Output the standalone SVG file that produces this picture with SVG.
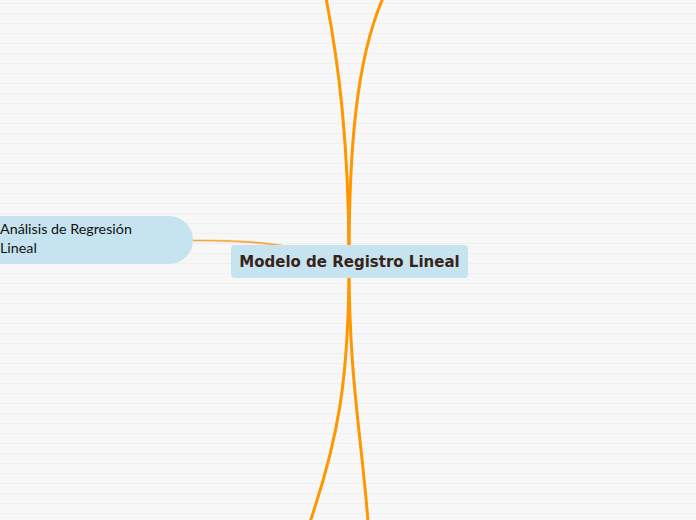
<svg xmlns="http://www.w3.org/2000/svg" width="696" height="520" viewBox="0 0 696 520">
<defs>
<pattern id="stripes" x="0" y="0" width="696" height="10" patternUnits="userSpaceOnUse">
<rect x="0" y="0" width="696" height="10" fill="#f7f7f7"/>
<rect x="0" y="3" width="696" height="1" fill="#efefef"/>
</pattern>
</defs>
<style>
.branch{fill:none;stroke:#ff9800;stroke-width:3;stroke-linecap:round}
.main{fill:#c5e4f0}
.mainText{font-family:"DejaVu Sans",sans-serif;font-weight:bold;font-size:15px;fill:#3a2218}
.subText{font-family:Lato,"Noto Sans",sans-serif;font-size:14.3px;fill:#111111}
</style>
<rect width="696" height="520" fill="url(#stripes)"/>
<g id="connectors">
<path d="M193,240 C250,240 290,242 349,262 C290,244 250,241 193,241 Z" fill="#f9a53a" stroke="#f9a53a" stroke-width="0.6"/>
<path class="branch" d="M349,262 C349,140 338,60 326,-2"/>
<path class="branch" d="M349,262 C349,150 356,60 383,-2"/>
<path class="branch" d="M349,262 C349,380 338,440 310,522"/>
<path class="branch" d="M349,262 C349,380 362,440 368,522"/>
</g>
<g id="node-analisis">
<rect class="main" x="-60" y="216" width="253" height="48" rx="24"/>
<text class="subText" x="0" y="234">Análisis de Regresión</text>
<text class="subText" x="0" y="253">Lineal</text>
</g>
<g id="node-modelo">
<rect class="main" x="231" y="245" width="237" height="33" rx="4"/>
<text class="mainText" x="349.5" y="267" text-anchor="middle">Modelo de Registro Lineal</text>
</g>
</svg>
